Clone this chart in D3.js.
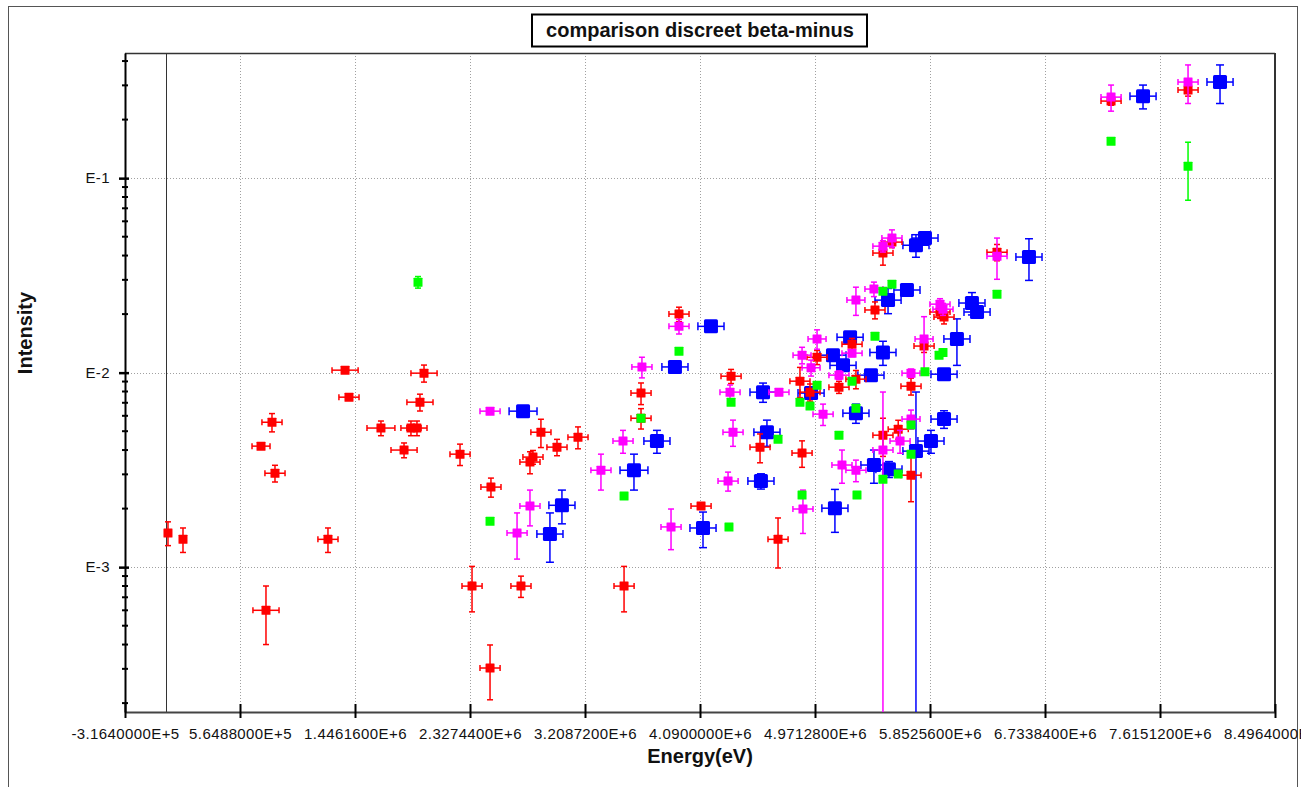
<!DOCTYPE html>
<html>
<head>
<meta charset="utf-8">
<script src="https://cdn.jsdelivr.net/npm/d3@7"></script>
<style>
  body { margin: 0; background: #fff; }
  svg { display: block; font-family: "Liberation Sans", Arial, sans-serif; }
</style>
</head>
<body>
<svg id="chart" width="1301" height="787"></svg>
<script>
// ---- axis ticks ----
const xTickValues = [-316400, 564880, 1446160, 2327440, 3208720, 4090000, 4971280, 5852560, 6733840, 7615120, 8496400];
const xTickLabels = ["-3.1640000E+5", "5.6488000E+5", "1.4461600E+6", "2.3274400E+6", "3.2087200E+6",
                     "4.0900000E+6", "4.9712800E+6", "5.8525600E+6", "6.7338400E+6", "7.6151200E+6", "8.4964000E+6"];
const yTickValues = [0.1, 0.01, 0.001];
const yTickLabels = ["E-1", "E-2", "E-3"];

// ---- red series (energy keV, intensity, energy error keV, intensity error) ----
const redE  = [13, 128, 726, 810, 833, 764, 1239, 1370, 1400, 1645, 1822, 1875, 1921, 1944, 1975, 2251, 2488, 2871, 2810, 2787,
               2994, 3155, 2343, 2718, 2481, 3508, 3638, 3929, 4328, 4550, 4872, 4098, 4688, 4856, 4933, 4987, 5155, 3638, 5255, 5285,
               5431, 5492, 5561, 5929, 5960, 5707, 5492, 5609, 5707, 5807, 6366, 7240, 7830];
const redI  = [1.50e-3, 1.39e-3, 4.19e-3, 5.56e-3, 3.04e-3, 6.0e-4, 1.39e-3, 1.03e-2, 7.48e-3, 5.19e-3, 4.0e-3, 5.19e-3, 5.19e-3, 7.05e-3, 9.94e-3, 3.81e-3, 2.58e-3, 4.94e-3, 3.68e-3, 3.47e-3,
               4.14e-3, 4.66e-3, 7.99e-4, 7.99e-4, 3.03e-4, 7.99e-4, 7.85e-3, 2.0e-2, 9.59e-3, 4.14e-3, 3.86e-3, 2.06e-3, 1.39e-3, 9.04e-3, 7.94e-3, 1.20e-2, 8.42e-3, 5.83e-3, 1.40e-2, 9.26e-3,
               2.10e-2, 4.12e-2, 4.69e-2, 2.05e-2, 1.93e-2, 8.52e-3, 4.77e-3, 5.12e-3, 2.97e-3, 1.37e-2, 4.16e-2, 0.249, 0.284];
const redDE = [0, 0, 69, 77, 77, 100, 77, 100, 77, 107, 100, 77, 77, 100, 100, 77, 77, 77, 77, 77,
               77, 77, 77, 77, 77, 77, 77, 77, 77, 77, 77, 77, 77, 77, 77, 77, 77, 77, 77, 77,
               77, 77, 77, 77, 77, 77, 77, 77, 77, 77, 77, 77, 77];
const redDI = [0.21e-3, 0.20e-3, 0.15e-3, 0.6e-3, 0.3e-3, 2.0e-4, 0.2e-3, 0, 0.2e-3, 0.45e-3, 0.35e-3, 0.45e-3, 0.45e-3, 0.7e-3, 1.0e-3, 0.48e-3, 0.29e-3, 0.82e-3, 0.3e-3, 0.45e-3,
               0.4e-3, 0.6e-3, 2.1e-4, 1.0e-4, 0.95e-4, 2.1e-4, 1.0e-3, 1.7e-3, 0.8e-3, 0.7e-3, 0.6e-3, 0, 0.4e-3, 1.6e-3, 0.8e-3, 1.0e-3, 0.6e-3, 0.7e-3, 1.0e-3, 1.0e-3,
               2.1e-3, 5.5e-3, 3e-3, 1.5e-3, 1.5e-3, 0.85e-3, 1.06e-3, 0.57e-3, 0.8e-3, 1.0e-3, 4e-3, 0.012, 0.02];

// ---- magenta series ----
const magE  = [2481, 2787, 2688, 3331, 3500, 3645, 3929, 3868, 4320, 4343, 4305, 4695, 4879, 5033, 4987, 4872, 4941, 5155, 5255, 5178,
               5285, 5492, 5623, 5707, 5707, 5807, 5285, 5423, 5492, 5561, 5929, 5952, 6366, 7240, 7830];
const magI  = [6.34e-3, 2.06e-3, 1.50e-3, 3.15e-3, 4.45e-3, 1.07e-2, 1.73e-2, 1.61e-3, 7.94e-3, 4.94e-3, 2.77e-3, 7.94e-3, 1.99e-3, 6.12e-3, 1.49e-2, 1.23e-2, 1.06e-2, 9.71e-3, 1.26e-2, 3.35e-3,
               3.15e-3, 4.0e-3, 4.45e-3, 5.77e-3, 9.94e-3, 1.49e-2, 2.36e-2, 2.69e-2, 4.47e-2, 4.92e-2, 2.25e-2, 2.12e-2, 3.97e-2, 0.261, 0.312];
const magDE = [77, 77, 77, 77, 77, 77, 77, 77, 77, 77, 77, 77, 77, 77, 69, 69, 69, 77, 77, 77,
               77, 77, 77, 69, 69, 69, 69, 69, 77, 77, 77, 77, 77, 77, 77];
const magDI = [0.2e-3, 0.43e-3, 0.4e-3, 0.66e-3, 0.6e-3, 1.3e-3, 1.5e-3, 0.38e-3, 0.7e-3, 0.76e-3, 0.31e-3, 0.3e-3, 0.5e-3, 0.77e-3, 1.7e-3, 1.2e-3, 1.0e-3, 0.5e-3, 0.5e-3, 0.65e-3,
               0.4e-3, 3.95e-3, 0.6e-3, 0.65e-3, 0.5e-3, 4.5e-3, 3.9e-3, 2.3e-3, 3e-3, 5e-3, 1.5e-3, 1.5e-3, 9.5e-3, 0.04, 0.07];

// ---- blue series ----
const blueE  = [2734, 3032, 2940, 3584, 3760, 3898, 4174, 4113, 4573, 4603, 4557, 4941, 5109, 5186, 5124, 5240, 5285, 5400, 5492, 5423,
                5538, 5745, 5860, 5960, 5960, 6059, 5531, 5676, 5745, 5814, 6174, 6213, 6611, 7485, 8075];
const blueI  = [6.34e-3, 2.08e-3, 1.48e-3, 3.15e-3, 4.45e-3, 1.07e-2, 1.73e-2, 1.59e-3, 7.94e-3, 4.94e-3, 2.77e-3, 7.85e-3, 1.23e-2, 1.09e-2, 2.01e-3, 1.52e-2, 6.19e-3, 9.71e-3, 1.27e-2, 3.35e-3,
                3.19e-3, 3.95e-3, 4.45e-3, 5.77e-3, 9.82e-3, 1.49e-2, 2.36e-2, 2.66e-2, 4.52e-2, 4.92e-2, 2.28e-2, 2.05e-2, 3.93e-2, 0.264, 0.312];
const blueDE = [107, 100, 100, 107, 100, 100, 100, 100, 100, 100, 100, 100, 100, 100, 100, 100, 100, 100, 100, 100,
                100, 100, 100, 100, 100, 100, 100, 100, 100, 100, 100, 100, 100, 100, 100];
const blueDI = [0.2e-3, 0.41e-3, 0.42e-3, 0.66e-3, 0.6e-3, 0.5e-3, 0.5e-3, 0.33e-3, 0.9e-3, 0.76e-3, 0.25e-3, 0.5e-3, 0.5e-3, 0.5e-3, 0.5e-3, 0.5e-3, 0.7e-3, 0.5e-3, 1.8e-3, 0.65e-3,
                0.3e-3, 4.0e-3, 0.6e-3, 0.6e-3, 0.5e-3, 4.0e-3, 3.5e-3, 1.5e-3, 6e-3, 2e-3, 3e-3, 1e-3, 9.5e-3, 0.037, 0.07];

// ---- green series ----
const greenE  = [1929, 2481, 3508, 3638, 3929, 4312, 4328, 4688, 4856, 4933, 4987, 4872, 5155, 5255, 5285, 5293, 5431, 5492, 5561, 5492,
                 5609, 5707, 5707, 5814, 5922, 5952, 6366, 7240, 7830];
const greenI  = [2.92e-2, 1.72e-3, 2.32e-3, 5.83e-3, 1.29e-2, 1.61e-3, 7.05e-3, 4.55e-3, 7.05e-3, 6.73e-3, 8.62e-3, 2.35e-3, 4.77e-3, 9.04e-3, 6.57e-3, 2.35e-3, 1.54e-2, 2.62e-2, 2.85e-2, 2.83e-3,
                 3.01e-3, 3.81e-3, 5.38e-3, 1.01e-2, 1.23e-2, 1.27e-2, 2.53e-2, 0.155, 0.115];
const greenDI = [0.2e-2, 0, 0, 0, 0, 0, 0, 0, 0, 0, 0, 0, 0, 0, 0, 0, 0, 0, 0, 0,
                 0, 0, 0, 0, 0, 0, 0, 0, 0.038];

// ---- layout ----
const W = 1301, H = 787;
const P = { left: 125, right: 1275, top: 53, bottom: 712 };

const svg = d3.select("#chart");
const x = d3.scaleLinear().domain([-316400, 8496400]).range([P.left, P.right]);
const y = d3.scaleLog().domain([1.8e-4, 0.44]).range([P.bottom, P.top]);
const yMin = y.domain()[0];

// outer frame
svg.append("rect").attr("x", 8.5).attr("y", 6.5).attr("width", 1289).attr("height", 790)
  .attr("fill", "none").attr("stroke", "#555").attr("stroke-width", 1);

// dotted grid
const grid = svg.append("g").attr("stroke", "#a0a0a0").attr("stroke-width", 1).attr("stroke-dasharray", "1,2");
grid.selectAll("line.v").data(xTickValues.slice(1, -1)).join("line")
  .attr("x1", d => Math.round(x(d)) + 0.5).attr("x2", d => Math.round(x(d)) + 0.5)
  .attr("y1", P.top).attr("y2", P.bottom);
grid.selectAll("line.h").data(yTickValues).join("line")
  .attr("x1", P.left).attr("x2", P.right)
  .attr("y1", d => Math.round(y(d)) + 0.5).attr("y2", d => Math.round(y(d)) + 0.5);

// plot frame (top and right)
svg.append("line").attr("x1", P.left).attr("x2", P.right).attr("y1", P.top + 0.5).attr("y2", P.top + 0.5)
  .attr("stroke", "#333").attr("stroke-width", 1.5);
svg.append("line").attr("x1", P.right).attr("x2", P.right).attr("y1", P.top).attr("y2", P.bottom)
  .attr("stroke", "#333").attr("stroke-width", 2);

// zero-energy marker line
svg.append("line").attr("x1", Math.round(x(0)) + 0.5).attr("x2", Math.round(x(0)) + 0.5)
  .attr("y1", P.top).attr("y2", P.bottom).attr("stroke", "#333").attr("stroke-width", 1);

// x axis
const xAxis = svg.append("g").attr("transform", `translate(0,${P.bottom})`)
  .call(d3.axisBottom(x).tickValues(xTickValues).tickFormat((d, i) => xTickLabels[i])
    .tickSizeInner(0).tickSizeOuter(0).tickPadding(16));
xAxis.select(".domain").attr("stroke", "#444").attr("stroke-width", 2);
xAxis.selectAll(".tick line").attr("y1", -8).attr("y2", 6).attr("stroke", "#000").attr("stroke-width", 2);
xAxis.selectAll(".tick text").attr("font-size", 15).attr("letter-spacing", 0.4).attr("fill", "#111")
  .attr("font-family", "Liberation Sans, Arial, sans-serif");

// y axis
const yAxis = svg.append("g").attr("transform", `translate(${P.left},0)`)
  .call(d3.axisLeft(y).tickValues(yTickValues).tickFormat((d, i) => yTickLabels[i])
    .tickSizeInner(0).tickSizeOuter(0).tickPadding(15));
yAxis.select(".domain").attr("stroke", "#000").attr("stroke-width", 2);
yAxis.selectAll(".tick line").attr("x1", -6).attr("x2", 4).attr("stroke", "#000").attr("stroke-width", 2.5);
yAxis.selectAll(".tick text").attr("font-size", 15).attr("letter-spacing", 0.4).attr("fill", "#111")
  .attr("font-family", "Liberation Sans, Arial, sans-serif");

// minor log ticks
const minor = [];
[-4, -3, -2, -1].forEach(k => { for (let m = 2; m <= 9; m++) { const v = m * Math.pow(10, k); if (v > yMin && v < 0.44) minor.push(v); } });
svg.append("g").selectAll("line").data(minor).join("line")
  .attr("x1", P.left - 3).attr("x2", P.left + 3)
  .attr("y1", d => y(d)).attr("y2", d => y(d))
  .attr("stroke", "#000").attr("stroke-width", 2);

// axis titles
svg.append("text").attr("x", (P.left + P.right) / 2).attr("y", 763).attr("text-anchor", "middle")
  .attr("font-size", 20).attr("font-weight", "bold").attr("fill", "#111").text("Energy(eV)");
svg.append("text").attr("transform", "translate(32,333) rotate(-90)").attr("text-anchor", "middle")
  .attr("font-size", 20).attr("font-weight", "bold").attr("fill", "#111").text("Intensity");

// chart title in a box
svg.append("rect").attr("x", 532).attr("y", 14.5).attr("width", 335).attr("height", 32)
  .attr("fill", "#fff").attr("stroke", "#000").attr("stroke-width", 2);
svg.append("text").attr("x", 700).attr("y", 37).attr("text-anchor", "middle")
  .attr("font-size", 20).attr("font-weight", "bold").attr("fill", "#111").text("comparison discreet beta-minus");

// data
svg.append("clipPath").attr("id", "plotclip").append("rect")
  .attr("x", P.left).attr("y", P.top).attr("width", P.right - P.left).attr("height", P.bottom - P.top);
const plot = svg.append("g").attr("clip-path", "url(#plotclip)");

function series(E, I, dE, dI, color, size, cap) {
  const rows = E.map((e, i) => ({ e: e * 1000, v: I[i], de: (dE ? dE[i] : 0) * 1000, dv: dI ? dI[i] : 0 }));
  const g = plot.append("g").attr("stroke", color).attr("stroke-width", 1.5).attr("fill", color);
  rows.forEach(r => {
    const cx = x(r.e), cy = y(r.v);
    if (r.de > 0) {
      const x0 = x(r.e - r.de), x1 = x(r.e + r.de);
      g.append("line").attr("x1", x0).attr("x2", x1).attr("y1", cy).attr("y2", cy);
      g.append("line").attr("x1", x0).attr("x2", x0).attr("y1", cy - cap).attr("y2", cy + cap);
      g.append("line").attr("x1", x1).attr("x2", x1).attr("y1", cy - cap).attr("y2", cy + cap);
    }
    if (r.dv > 0) {
      const yt = y(r.v + r.dv);
      const low = r.v - r.dv;
      const yb = low > yMin ? y(low) : P.bottom + 2;
      g.append("line").attr("x1", cx).attr("x2", cx).attr("y1", yt).attr("y2", yb);
      g.append("line").attr("x1", cx - cap).attr("x2", cx + cap).attr("y1", yt).attr("y2", yt);
      if (low > yMin) g.append("line").attr("x1", cx - cap).attr("x2", cx + cap).attr("y1", yb).attr("y2", yb);
    }
  });
  g.selectAll("rect").data(rows).join("rect")
    .attr("x", d => x(d.e) - size / 2).attr("y", d => y(d.v) - size / 2)
    .attr("width", size).attr("height", size).attr("rx", size > 10 ? 1.5 : 0.5)
    .attr("stroke", "none");
}

series(blueE, blueI, blueDE, blueDI, "#0000ff", 14, 4);
series(redE, redI, redDE, redDI, "#ff0000", 9, 3);
series(magE, magI, magDE, magDI, "#ff00ff", 9, 3);
series(greenE, greenI, null, greenDI, "#00ff00", 9, 3);
</script>
</body>
</html>
